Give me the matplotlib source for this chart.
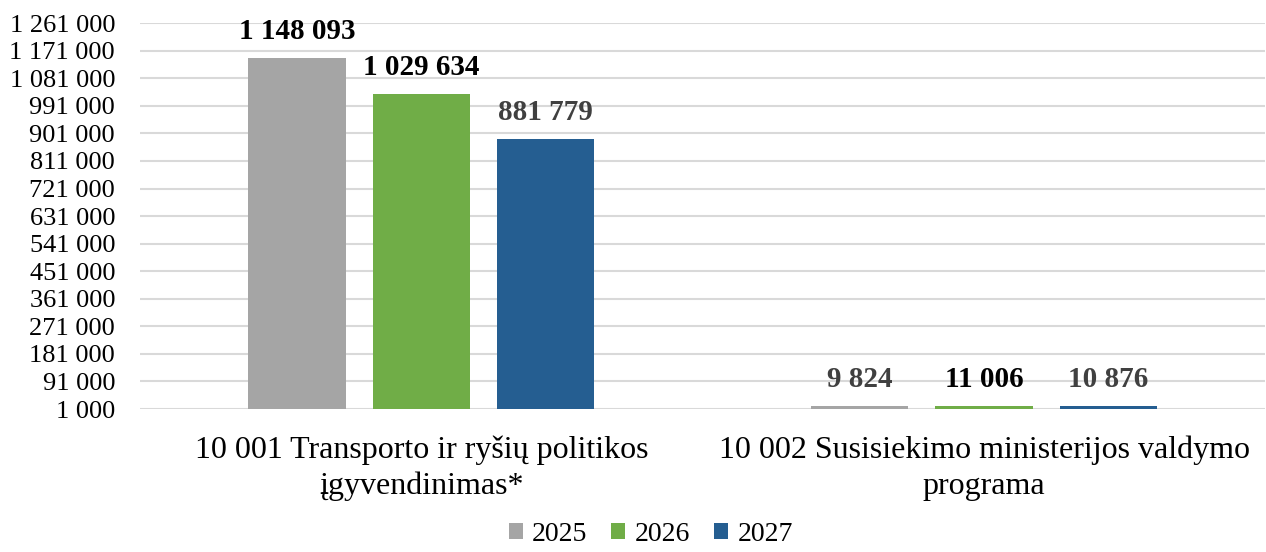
import numpy as np
import matplotlib as mpl
import matplotlib.pyplot as plt

mpl.rcParams['font.family'] = 'serif'
mpl.rcParams['font.serif'] = ['Liberation Serif', 'DejaVu Serif']

categories = ['10 001 Transporto ir ryšių politikos\nįgyvendinimas*',
              '10 002 Susisiekimo ministerijos valdymo\nprograma']
years = ['2025', '2026', '2027']
values_2025 = [1148093, 9824]
values_2026 = [1029634, 11006]
values_2027 = [881779, 10876]
series = [values_2025, values_2026, values_2027]
colors = ['#A5A5A5', '#70AD47', '#255E91']
label_colors = [['#000000', '#404040'], ['#000000', '#000000'], ['#404040', '#404040']]
yticks = np.arange(1000, 1261001, 90000)


def fmt(v):
    return f'{v:,}'.replace(',', ' ')


fig = plt.figure(figsize=(12.66, 5.52), dpi=100)
ax = fig.add_axes([0.1106, 0.259, 0.889, 0.699])

x = np.arange(len(categories))
width = 0.173
step = 0.221
for i, vals in enumerate(series):
    pos = x + (i - 1) * step
    ax.bar(pos, vals, width, color=colors[i], label=years[i], zorder=3)
    for j, v in enumerate(vals):
        ax.text(pos[j], v + 42000, fmt(v), ha='center', va='bottom',
                fontsize=21, fontweight='bold', color=label_colors[i][j])

ax.set_ylim(1000, 1261000)
ax.set_xlim(-0.5, 1.5)
ax.set_yticks(yticks)
ax.set_yticklabels([fmt(t) for t in yticks], fontsize=19)
ax.set_xticks(x)
ax.set_xticklabels(categories, fontsize=23, linespacing=1.3)
ax.tick_params(length=0)
ax.tick_params(axis='x', pad=19)
ax.tick_params(axis='y', pad=18)
ax.grid(axis='y', color='#D9D9D9', linewidth=1.5, zorder=0)
for s in ax.spines.values():
    s.set_visible(False)

fig.legend(loc='lower center', bbox_to_anchor=(0.514, -0.036), ncol=3, frameon=False,
           fontsize=20, handlelength=0.5, handleheight=0.5, handletextpad=0.35,
           columnspacing=0.85)

plt.savefig('out.png', dpi=100)
